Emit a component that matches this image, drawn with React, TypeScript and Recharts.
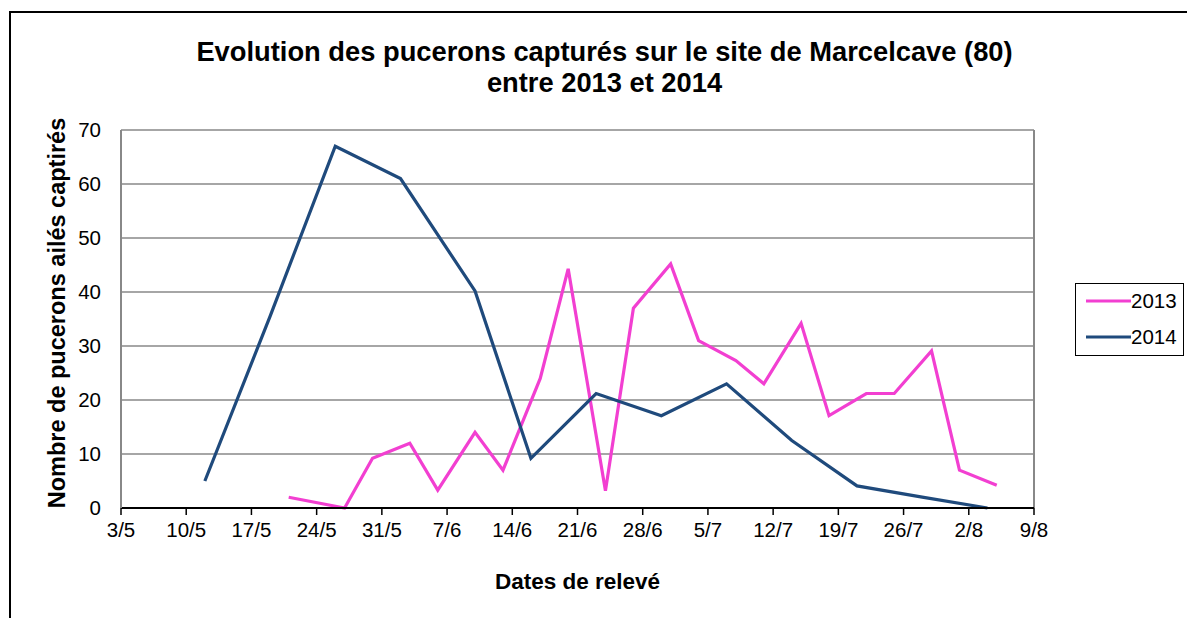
import { LineChart, Line, XAxis, YAxis, CartesianGrid, ReferenceLine } from 'recharts'

// days counted from 3/5 (day 0)
const tickDays = [0, 7, 14, 21, 28, 35, 42, 49, 56, 63, 70, 77, 84, 91, 98]
const tickLabels = ['3/5', '10/5', '17/5', '24/5', '31/5', '7/6', '14/6', '21/6', '28/6', '5/7', '12/7', '19/7', '26/7', '2/8', '9/8']
const yTicks = [0, 10, 20, 30, 40, 50, 60, 70]

const days2013 = [18, 24, 27, 31, 34, 38, 41, 45, 48, 52, 55, 59, 62, 66, 69, 73, 76, 80, 83, 87, 90, 94]
const values2013 = [2, 0, 9.2, 12, 3.3, 14, 7, 24, 44.3, 3.2, 37, 45.2, 31, 27.3, 23, 34.2, 17.1, 21.2, 21.2, 29.1, 7, 4.2]

const days2014 = [9, 16, 23, 30, 38, 44, 51, 58, 65, 72, 79, 86, 93]
const values2014 = [5, 35.5, 67, 61, 40.2, 9.2, 21.2, 17.1, 23, 12.5, 4.1, 2, 0]

const PINK = '#F23FD1'
const BLUE = '#1F4A7C'
const FONT = '"Liberation Sans", Arial, sans-serif'

const data2013 = days2013.map((day, i) => ({ day, value: values2013[i] }))
const data2014 = days2014.map((day, i) => ({ day, value: values2014[i] }))

const formatDay = (d: number) => tickLabels[tickDays.indexOf(d)] ?? ''

export default function App() {
  return (
    <div
      style={{
        position: 'absolute',
        left: 0,
        top: 0,
        width: 1187,
        height: 618,
        overflow: 'hidden',
        background: '#fff',
        fontFamily: FONT,
      }}
    >
      <div
        style={{
          position: 'absolute',
          left: 9,
          top: 11,
          width: 1300,
          height: 700,
          border: '2px solid #000',
        }}
      />
      <div
        style={{
          position: 'absolute',
          left: 0,
          width: 1209,
          top: 36,
          textAlign: 'center',
          fontWeight: 'bold',
          fontSize: 27.3,
          lineHeight: '31px',
          color: '#000',
        }}
      >
        Evolution des pucerons capturés sur le site de Marcelcave (80)
        <br />
        entre 2013 et 2014
      </div>
      <div
        style={{
          position: 'absolute',
          left: 57,
          top: 313,
          transform: 'translate(-50%, -50%) rotate(-90deg)',
          whiteSpace: 'nowrap',
          fontWeight: 'bold',
          fontSize: 23.5,
          color: '#000',
        }}
      >
        Nombre de pucerons ailés captirés
      </div>

      <LineChart
        width={1187}
        height={618}
        margin={{ top: 130, right: 153, left: 0, bottom: 0 }}
        style={{ position: 'absolute', left: 0, top: 0 }}
      >
        <CartesianGrid vertical={false} stroke="#888" strokeWidth={1.6} />
        <XAxis
          type="number"
          dataKey="day"
          domain={[0, 98]}
          ticks={tickDays}
          tickFormatter={formatDay}
          interval={0}
          height={110}
          axisLine={{ stroke: '#000', strokeWidth: 2 }}
          tickLine={{ stroke: '#000', strokeWidth: 1.5 }}
          tickSize={7}
          tickMargin={7}
          tick={{ fill: '#000', fontSize: 20.5, fontFamily: FONT }}
          label={{
            value: 'Dates de relevé',
            position: 'insideBottom',
            offset: 29,
            fill: '#000',
            fontSize: 22.5,
            fontWeight: 'bold',
            fontFamily: FONT,
          }}
        />
        <YAxis
          type="number"
          domain={[0, 70]}
          ticks={yTicks}
          interval={0}
          width={121}
          axisLine={{ stroke: '#888', strokeWidth: 2 }}
          tickLine={false}
          tickMargin={14}
          tick={{ fill: '#000', fontSize: 20.5, fontFamily: FONT }}
        />
        <ReferenceLine x={98} stroke="#888" strokeWidth={2} />
        <Line
          data={data2013}
          dataKey="value"
          type="linear"
          stroke={PINK}
          strokeWidth={3.2}
          dot={false}
          isAnimationActive={false}
        />
        <Line
          data={data2014}
          dataKey="value"
          type="linear"
          stroke={BLUE}
          strokeWidth={3.2}
          dot={false}
          isAnimationActive={false}
        />
      </LineChart>

      <div
        style={{
          position: 'absolute',
          left: 1075,
          top: 283,
          width: 109,
          height: 73,
          border: '1.5px solid #000',
          boxSizing: 'border-box',
          background: '#fff',
        }}
      >
        {[
          { name: '2013', color: PINK },
          { name: '2014', color: BLUE },
        ].map((item, i) => (
          <div
            key={item.name}
            style={{
              position: 'absolute',
              left: 10,
              top: 5 + i * 36,
              display: 'flex',
              alignItems: 'center',
              fontSize: 20.5,
              color: '#000',
            }}
          >
            <svg width={45} height={6} style={{ display: 'block' }}>
              <line x1={0} y1={3} x2={45} y2={3} stroke={item.color} strokeWidth={3} />
            </svg>
            <span>{item.name}</span>
          </div>
        ))}
      </div>
    </div>
  )
}
